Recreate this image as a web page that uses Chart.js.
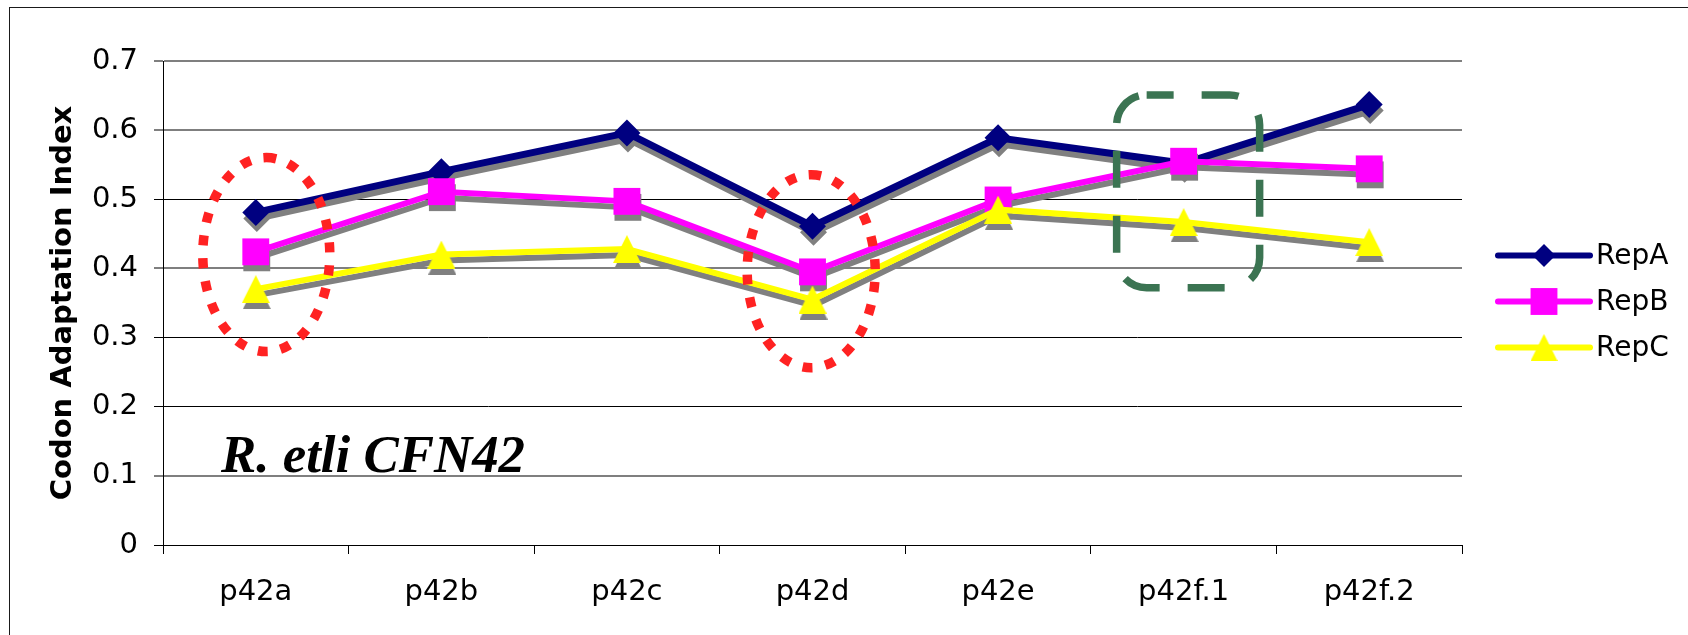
<!DOCTYPE html>
<html><head><meta charset="utf-8">
<script src="https://cdn.jsdelivr.net/npm/chart.js@4.4.0/dist/chart.umd.min.js"></script>
<style>html,body{margin:0;padding:0;background:#fff}canvas{display:block}</style>
</head><body>
<canvas id="c" width="1688" height="635"></canvas>
<script>
// ---- data ----
const categories = ['p42a', 'p42b', 'p42c', 'p42d', 'p42e', 'p42f.1', 'p42f.2'];
const repA = [0.481, 0.540, 0.596, 0.461, 0.589, 0.552, 0.637];
const repB = [0.424, 0.511, 0.497, 0.395, 0.499, 0.555, 0.544];
const repC = [0.370, 0.420, 0.428, 0.355, 0.485, 0.467, 0.438];
const seriesNames = ['RepA', 'RepB', 'RepC'];
const yTicks = [0, 0.1, 0.2, 0.3, 0.4, 0.5, 0.6, 0.7];
const yTitle = 'Codon Adaptation Index';
const chartLabel = 'R. etli CFN42';

// ---- styles ----
const FONT = 'DejaVu Sans';
const SHADOW = '#808080';
function triangleCanvas(size, color) {
  const c = document.createElement('canvas');
  c.width = size; c.height = size;
  const g = c.getContext('2d');
  g.fillStyle = color;
  g.beginPath(); g.moveTo(size / 2, 0); g.lineTo(size, size); g.lineTo(0, size); g.closePath(); g.fill();
  return c;
}
const triYellow = triangleCanvas(28, '#ffff00');
const triGray = triangleCanvas(28, SHADOW);
const triLegend = triangleCanvas(27, '#ffff00');

function series(label, data, color, style, radius, width, order, shadow) {
  return {
    label, data, isShadow: shadow,
    borderColor: shadow ? SHADOW : color,
    backgroundColor: shadow ? SHADOW : color,
    pointBackgroundColor: shadow ? SHADOW : color,
    borderWidth: width, pointStyle: style, pointRadius: radius, pointBorderWidth: 0,
    pointHoverRadius: radius, tension: 0, order, clip: false, fill: false
  };
}
const datasets = [
  series(seriesNames[0], repA, SHADOW, 'rectRot', 13.5, 7, 6, true),
  series(seriesNames[0], repA, '#000080', 'rectRot', 13.5, 7, 5, false),
  series(seriesNames[1], repB, SHADOW, 'rect', 19, 6, 4, true),
  series(seriesNames[1], repB, '#ff00ff', 'rect', 19, 6, 3, false),
  series(seriesNames[2], repC, SHADOW, triGray, 14, 6, 2, true),
  series(seriesNames[2], repC, '#ffff00', triYellow, 14, 6, 1, false)
];

const grayTicks = [0.1, 0.4, 0.6, 0.7];
const isGray = v => grayTicks.some(g => Math.abs(g - v) < 1e-6);

const shadowPlugin = {
  id: 'shadowShift',
  beforeDatasetDraw(chart, args) {
    const ds = chart.data.datasets[args.index];
    if (ds.isShadow) { chart.ctx.save(); chart.ctx.translate(1, 6); }
  },
  afterDatasetDraw(chart, args) {
    const ds = chart.data.datasets[args.index];
    if (ds.isShadow) chart.ctx.restore();
  }
};

const framePlugin = {
  id: 'frame',
  beforeDraw(chart) {
    const ctx = chart.ctx;
    ctx.save();
    ctx.fillStyle = '#fff';
    ctx.fillRect(0, 0, chart.width, chart.height);
    ctx.strokeStyle = '#1a1a1a';
    ctx.lineWidth = 1;
    ctx.strokeRect(9.5, 7.5, chart.width + 20, chart.height + 20);
    ctx.restore();
  }
};

const annotationPlugin = {
  id: 'annotations',
  afterDatasetsDraw(chart) {
    const ctx = chart.ctx, x = chart.scales.x, y = chart.scales.y, a = chart.chartArea;
    // label text
    ctx.save();
    ctx.font = 'italic bold 52px "Liberation Serif"';
    ctx.fillStyle = '#000';
    ctx.textBaseline = 'alphabetic';
    const w = ctx.measureText(chartLabel).width;
    const targetW = 304;
    ctx.translate(a.left + 58, y.getPixelForValue(0.1) - 4);
    ctx.scale(targetW / w, 1);
    ctx.fillText(chartLabel, 0, 0);
    ctx.restore();
    // red dotted ellipses
    const ellipses = [
      {cat: 0, dx: 10.5, v: 0.42, rx: 63.5, ry: 97},
      {cat: 3, dx: -1.3, v: 0.396, rx: 64, ry: 96.5}
    ];
    ctx.save();
    ctx.strokeStyle = 'rgb(255,34,34)';
    ctx.lineWidth = 9.5;
    ctx.setLineDash([10, 13]);
    ctx.lineCap = 'butt';
    ellipses.forEach(e => {
      ctx.beginPath();
      ctx.ellipse(x.getPixelForValue(e.cat) + e.dx, y.getPixelForValue(e.v), e.rx, e.ry, 0, -Math.PI / 2, Math.PI * 1.5);
      ctx.stroke();
    });
    ctx.restore();
    // green dashed rounded rectangle
    const cx = x.getPixelForValue(5);
    const left = cx - 67, right = cx + 76;
    const top = y.getPixelForValue(0.651), bottom = y.getPixelForValue(0.372);
    ctx.save();
    ctx.strokeStyle = '#3b7452';
    ctx.lineWidth = 7.5;
    ctx.setLineDash([37, 28]);
    ctx.lineDashOffset = 10;
    ctx.beginPath();
    ctx.roundRect(left, top, right - left, bottom - top, 30);
    ctx.stroke();
    ctx.restore();
  }
};

const legendPlugin = {
  id: 'customLegend',
  afterDraw(chart) {
    const ctx = chart.ctx, a = chart.chartArea;
    const items = chart.data.datasets.filter(d => !d.isShadow);
    const midY = (a.top + a.bottom) / 2 - 1.5;
    const gap = 46;
    const x0 = a.right + 36, x1 = x0 + 92, xm = (x0 + x1) / 2;
    const markers = [
      {pointStyle: 'rectRot', radius: 11.5},
      {pointStyle: 'rect', radius: 19},
      {pointStyle: triLegend, radius: 14}
    ];
    items.forEach((d, i) => {
      const yy = midY + (i - (items.length - 1) / 2) * gap;
      ctx.save();
      ctx.strokeStyle = d.borderColor;
      ctx.lineWidth = 6;
      ctx.lineCap = 'round';
      ctx.beginPath(); ctx.moveTo(x0, yy); ctx.lineTo(x1, yy); ctx.stroke();
      ctx.fillStyle = d.borderColor;
      Chart.helpers.drawPoint(ctx, Object.assign({rotation: 0, borderWidth: 0}, markers[i]), xm, yy);
      ctx.fillStyle = '#000';
      ctx.font = '28px "' + FONT + '"';
      ctx.textBaseline = 'middle';
      ctx.textAlign = 'left';
      ctx.fillText(d.label, x1 + 6, yy + 1);
      ctx.restore();
    });
  }
};

Chart.defaults.font.family = FONT;
Chart.defaults.color = '#000';

new Chart(document.getElementById('c'), {
  type: 'line',
  data: { labels: categories, datasets },
  plugins: [framePlugin, shadowPlugin, annotationPlugin, legendPlugin],
  options: {
    responsive: false,
    animation: false,
    devicePixelRatio: 1,
    events: [],
    layout: { padding: { left: 0, top: 61, right: 226, bottom: 0 } },
    plugins: { legend: { display: false }, tooltip: { enabled: false } },
    scales: {
      x: {
        type: 'category',
        offset: true,
        grid: { offset: true, drawOnChartArea: false, drawTicks: true, tickLength: 9, color: '#000', lineWidth: 1 },
        border: { display: true, color: '#000', width: 1 },
        ticks: { font: { size: 29 }, color: '#000', padding: 21, maxRotation: 0, autoSkip: false },
        afterFit(s) { s.height = 90; }
      },
      y: {
        min: 0, max: 0.7,
        afterBuildTicks(s) { s.ticks = yTicks.map(v => ({ value: v })); },
        grid: {
          drawTicks: true, tickLength: 9,
          color: c => isGray(c.tick.value) ? '#7f7f7f' : '#000',
          lineWidth: c => isGray(c.tick.value) ? 2 : 1
        },
        border: { display: true, color: '#000', width: 1 },
        ticks: { font: { size: 29 }, color: '#000', padding: 16, callback: v => String(+v.toFixed(1)) },
        title: { display: true, text: yTitle, font: { size: 29, weight: 'bold' }, color: '#000', padding: { top: 46, bottom: 0 } },
        afterFit(s) { s.width = 163; }
      }
    }
  }
});
</script>
</body></html>
